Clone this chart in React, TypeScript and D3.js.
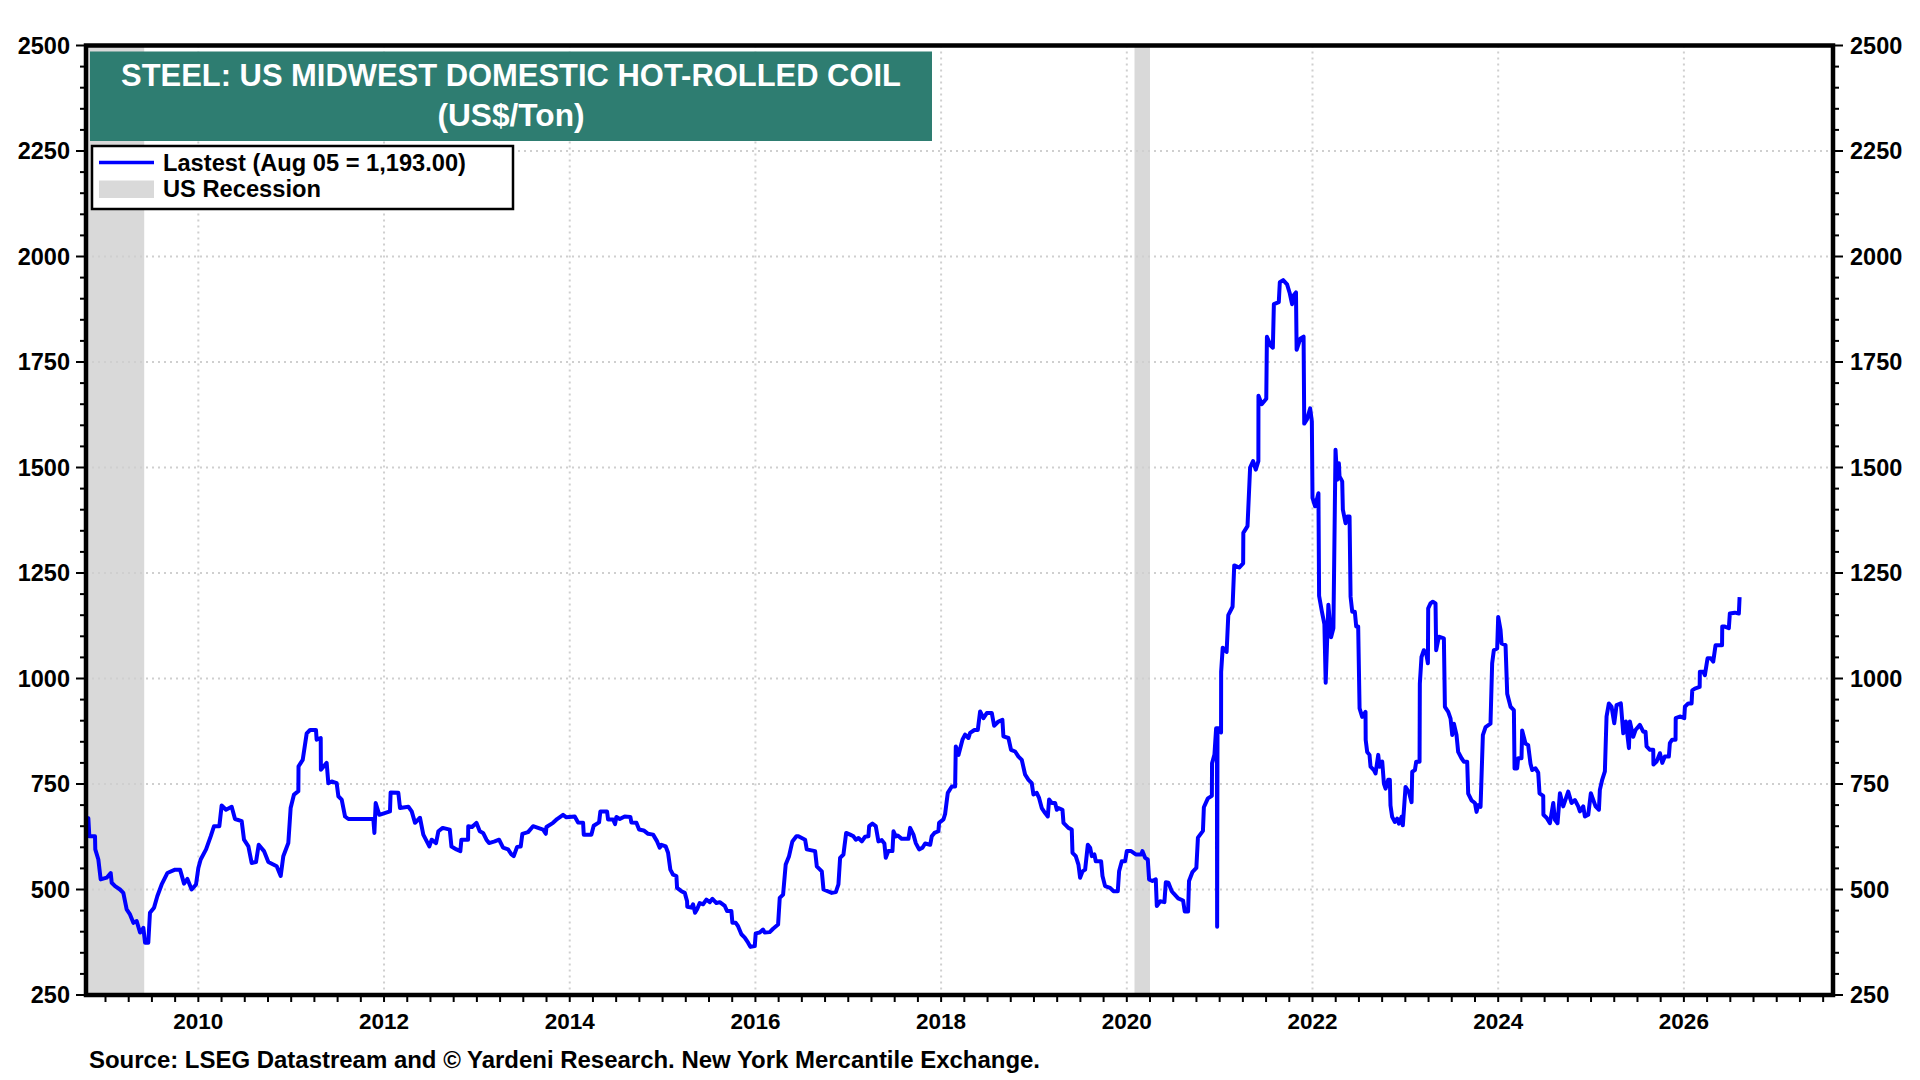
import React from 'react';
import * as d3 from 'd3';

type Pt = [number, number];

// US Midwest domestic hot-rolled coil, US$/ton as [decimal year, price]
const hrc2008to2012: Pt[] = [
  [2008.79, 670], [2008.815, 669], [2008.826, 626], [2008.887, 626], [2008.89, 595], [2008.923, 571],
  [2008.948, 524], [2009.013, 528], [2009.056, 539], [2009.067, 516], [2009.103, 508], [2009.156, 500],
  [2009.192, 492], [2009.228, 453], [2009.264, 441], [2009.3, 421], [2009.336, 425], [2009.372, 398],
  [2009.408, 409], [2009.426, 374], [2009.461, 374], [2009.479, 445], [2009.523, 457], [2009.558, 484],
  [2009.605, 512], [2009.666, 539], [2009.749, 547], [2009.803, 547], [2009.846, 514], [2009.882, 525],
  [2009.928, 500], [2009.975, 512], [2010.0, 551], [2010.025, 571], [2010.083, 595], [2010.133, 626],
  [2010.169, 650], [2010.226, 650], [2010.251, 699], [2010.298, 689], [2010.359, 696], [2010.395, 667],
  [2010.467, 662], [2010.492, 618], [2010.539, 602], [2010.574, 563], [2010.621, 565], [2010.65, 606],
  [2010.707, 591], [2010.754, 565], [2010.844, 555], [2010.887, 532], [2010.915, 579], [2010.969, 610],
  [2010.994, 693], [2011.03, 725], [2011.077, 733], [2011.079, 792], [2011.124, 807], [2011.167, 870],
  [2011.203, 878], [2011.267, 878], [2011.274, 855], [2011.318, 859], [2011.32, 784], [2011.382, 800],
  [2011.4, 752], [2011.436, 756], [2011.49, 752], [2011.508, 721], [2011.544, 713], [2011.58, 673],
  [2011.616, 667], [2011.885, 667], [2011.896, 634], [2011.91, 705], [2011.949, 677], [2012.064, 685],
  [2012.071, 730], [2012.154, 729], [2012.172, 693], [2012.262, 696], [2012.298, 685], [2012.334, 658],
  [2012.387, 670], [2012.423, 630], [2012.488, 602], [2012.513, 618], [2012.56, 610], [2012.585, 638],
  [2012.632, 646], [2012.708, 642],
];

const hrc2012to2016: Pt[] = [
  [2012.726, 602], [2012.78, 595], [2012.822, 591], [2012.833, 618], [2012.905, 618], [2012.907, 650],
  [2012.948, 648], [2012.995, 658], [2013.031, 638], [2013.067, 634], [2013.103, 618], [2013.131, 610],
  [2013.192, 614], [2013.239, 618], [2013.282, 599], [2013.336, 595], [2013.372, 583], [2013.397, 579],
  [2013.433, 601], [2013.472, 602], [2013.49, 632], [2013.551, 636], [2013.605, 650], [2013.659, 646],
  [2013.713, 642], [2013.742, 632], [2013.749, 648], [2013.82, 658], [2013.864, 667], [2013.928, 677],
  [2013.964, 671], [2014.054, 673], [2014.09, 659], [2014.144, 658], [2014.151, 630], [2014.233, 630],
  [2014.258, 651], [2014.316, 659], [2014.33, 685], [2014.402, 685], [2014.413, 666], [2014.467, 666],
  [2014.488, 655], [2014.503, 672], [2014.539, 667], [2014.592, 673], [2014.653, 672], [2014.664, 659],
  [2014.718, 658], [2014.747, 642], [2014.797, 640], [2014.844, 632], [2014.898, 630], [2014.941, 614],
  [2014.969, 599], [2014.987, 606], [2015.034, 602], [2015.059, 587], [2015.084, 547], [2015.113, 535],
  [2015.149, 532], [2015.156, 504], [2015.203, 496], [2015.239, 492], [2015.264, 472], [2015.266, 459],
  [2015.31, 457], [2015.328, 465], [2015.35, 445], [2015.372, 453], [2015.4, 468], [2015.436, 465],
  [2015.472, 476], [2015.508, 470], [2015.537, 478], [2015.58, 468], [2015.616, 470], [2015.67, 461],
  [2015.694, 449], [2015.741, 449], [2015.752, 421], [2015.788, 421], [2015.813, 413], [2015.849, 394],
  [2015.885, 386], [2015.921, 374], [2015.946, 364], [2015.993, 366], [2016.003, 396], [2016.046, 398],
  [2016.082, 405], [2016.1, 398], [2016.154, 399], [2016.19, 407], [2016.244, 417], [2016.262, 480],
  [2016.298, 488], [2016.326, 559], [2016.362, 579], [2016.398, 614], [2016.441, 626],
];

const hrc2016to2020: Pt[] = [
  [2016.463, 626], [2016.535, 618], [2016.553, 595], [2016.643, 591], [2016.661, 555], [2016.715, 543],
  [2016.733, 500], [2016.822, 492], [2016.866, 494], [2016.894, 512], [2016.912, 575], [2016.948, 583],
  [2016.977, 634], [2017.02, 630], [2017.056, 626], [2017.081, 618], [2017.11, 622], [2017.146, 614],
  [2017.181, 625], [2017.217, 626], [2017.225, 650], [2017.26, 656], [2017.296, 650], [2017.325, 614],
  [2017.361, 617], [2017.389, 609], [2017.404, 575], [2017.432, 591], [2017.476, 591], [2017.487, 638],
  [2017.512, 626], [2017.533, 628], [2017.576, 620], [2017.648, 620], [2017.666, 646], [2017.702, 630],
  [2017.727, 610], [2017.763, 595], [2017.799, 599], [2017.828, 609], [2017.882, 606], [2017.899, 626],
  [2017.928, 634], [2017.971, 638], [2017.978, 658], [2018.025, 666], [2018.043, 679], [2018.072, 729],
  [2018.115, 744], [2018.151, 744], [2018.158, 839], [2018.187, 819], [2018.23, 855], [2018.258, 867],
  [2018.294, 859], [2018.312, 871], [2018.359, 878], [2018.395, 878], [2018.42, 922], [2018.456, 906],
  [2018.492, 918], [2018.546, 918], [2018.571, 888], [2018.617, 898], [2018.66, 902], [2018.671, 863],
  [2018.725, 859], [2018.753, 831], [2018.797, 827], [2018.833, 815], [2018.869, 807], [2018.905, 772],
  [2018.941, 760], [2018.976, 752], [2018.994, 725], [2019.03, 729], [2019.055, 717], [2019.084, 693],
  [2019.12, 681], [2019.149, 673], [2019.163, 713], [2019.192, 705], [2019.228, 705], [2019.246, 689],
  [2019.264, 693], [2019.307, 689], [2019.318, 658], [2019.371, 646], [2019.407, 642], [2019.415, 587],
  [2019.45, 579], [2019.479, 559], [2019.497, 528], [2019.523, 543], [2019.551, 547], [2019.58, 606],
  [2019.605, 599], [2019.623, 579], [2019.651, 583], [2019.666, 567], [2019.723, 567], [2019.738, 532],
  [2019.766, 508], [2019.82, 504], [2019.856, 496], [2019.903, 496], [2019.917, 543], [2019.946, 567],
  [2019.982, 567], [2020.0, 591], [2020.046, 591], [2020.097, 583], [2020.154, 583], [2020.168, 591],
  [2020.197, 575], [2020.226, 571], [2020.24, 524],
];

const hrc2020to2022: Pt[] = [
  [2020.276, 520], [2020.312, 524], [2020.323, 461], [2020.359, 472], [2020.405, 470], [2020.42, 517],
  [2020.448, 516], [2020.484, 496], [2020.507, 490], [2020.553, 479], [2020.606, 474], [2020.624, 448],
  [2020.66, 448], [2020.67, 520], [2020.706, 541], [2020.749, 551], [2020.766, 623], [2020.82, 639],
  [2020.83, 695], [2020.873, 716], [2020.916, 722], [2020.918, 799], [2020.944, 820], [2020.962, 882],
  [2020.97, 882], [2020.973, 412], [2020.977, 882], [2020.987, 882], [2021.015, 872], [2021.016, 1016],
  [2021.033, 1073], [2021.075, 1063], [2021.093, 1150], [2021.139, 1170], [2021.157, 1268], [2021.21, 1263],
  [2021.253, 1273], [2021.255, 1345], [2021.3, 1361], [2021.328, 1500], [2021.36, 1515], [2021.389, 1495],
  [2021.417, 1515], [2021.418, 1670], [2021.453, 1650], [2021.502, 1663], [2021.509, 1810], [2021.548, 1789],
  [2021.573, 1784], [2021.584, 1887], [2021.637, 1892], [2021.648, 1939], [2021.684, 1944], [2021.726, 1934],
  [2021.755, 1913], [2021.78, 1887], [2021.798, 1908], [2021.822, 1915], [2021.829, 1779], [2021.868, 1805],
  [2021.904, 1810], [2021.911, 1604], [2021.94, 1614], [2021.975, 1640], [2021.993, 1609], [2022.0, 1428],
  [2022.028, 1408], [2022.064, 1439], [2022.071, 1196], [2022.1, 1160], [2022.128, 1129], [2022.142, 990],
  [2022.171, 1175], [2022.2, 1098], [2022.225, 1119],
];

const hrc2022to2024: Pt[] = [
  [2022.248, 1542], [2022.266, 1471], [2022.284, 1510], [2022.291, 1479], [2022.32, 1467], [2022.327, 1400],
  [2022.356, 1368], [2022.374, 1384], [2022.399, 1384], [2022.41, 1194], [2022.428, 1158], [2022.456, 1158],
  [2022.471, 1123], [2022.492, 1123], [2022.507, 929], [2022.535, 909], [2022.571, 921], [2022.573, 854],
  [2022.589, 826], [2022.614, 819], [2022.625, 791], [2022.661, 783], [2022.679, 775], [2022.708, 819],
  [2022.722, 791], [2022.751, 803], [2022.769, 751], [2022.787, 739], [2022.815, 760], [2022.833, 760],
  [2022.84, 699], [2022.858, 672], [2022.887, 660], [2022.912, 668], [2022.93, 656], [2022.959, 672],
  [2022.973, 652], [2023.002, 743], [2023.038, 731], [2023.067, 707], [2023.074, 779], [2023.103, 783],
  [2023.117, 803], [2023.153, 803], [2023.156, 988], [2023.174, 1051], [2023.199, 1067], [2023.225, 1059],
  [2023.243, 1036], [2023.246, 1166], [2023.271, 1178], [2023.296, 1182], [2023.325, 1178], [2023.332, 1067],
  [2023.361, 1099], [2023.415, 1095], [2023.426, 933], [2023.462, 921], [2023.487, 905], [2023.505, 866],
  [2023.523, 893], [2023.551, 866], [2023.569, 826], [2023.605, 811], [2023.63, 803], [2023.666, 803],
  [2023.677, 727], [2023.713, 711], [2023.749, 705], [2023.767, 684], [2023.785, 700], [2023.81, 696],
  [2023.835, 866], [2023.864, 885], [2023.917, 893], [2023.935, 1036], [2023.953, 1067], [2023.989, 1071],
  [2024.0, 1146], [2024.025, 1115], [2024.036, 1083], [2024.079, 1079], [2024.097, 964], [2024.133, 933],
  [2024.169, 925], [2024.176, 787], [2024.204, 787], [2024.215, 811], [2024.251, 811], [2024.258, 877],
  [2024.294, 846], [2024.323, 842], [2024.348, 798], [2024.366, 783], [2024.402, 787], [2024.431, 777],
];

const hrc2024to2026: Pt[] = [
  [2024.445, 728], [2024.485, 722], [2024.487, 677], [2024.521, 670], [2024.557, 657], [2024.593, 705],
  [2024.611, 665], [2024.639, 657], [2024.665, 728], [2024.7, 697], [2024.754, 732], [2024.79, 705],
  [2024.826, 712], [2024.862, 697], [2024.88, 685], [2024.916, 697], [2024.934, 673], [2024.97, 677],
  [2024.998, 728], [2025.024, 712], [2025.049, 697], [2025.085, 689], [2025.095, 736], [2025.12, 760],
  [2025.149, 780], [2025.167, 910], [2025.192, 941], [2025.221, 933], [2025.25, 894], [2025.275, 937],
  [2025.321, 941], [2025.347, 870], [2025.375, 898], [2025.408, 835], [2025.418, 898], [2025.454, 862],
  [2025.479, 878], [2025.526, 890], [2025.562, 874], [2025.587, 874], [2025.598, 839], [2025.634, 831],
  [2025.67, 831], [2025.672, 796], [2025.706, 803], [2025.742, 823], [2025.767, 800], [2025.795, 815],
  [2025.838, 815], [2025.849, 847], [2025.874, 855], [2025.91, 855], [2025.912, 906], [2025.957, 910],
  [2026.004, 906], [2026.011, 933], [2026.047, 941], [2026.083, 941], [2026.09, 972], [2026.118, 976],
  [2026.17, 980], [2026.172, 1016], [2026.208, 1016], [2026.226, 1008], [2026.255, 1048], [2026.29, 1048],
  [2026.316, 1040], [2026.341, 1079], [2026.411, 1079], [2026.413, 1123], [2026.441, 1123], [2026.484, 1119],
  [2026.495, 1154], [2026.549, 1156], [2026.592, 1154], [2026.6, 1193],
];

// NBER recessions [start, end] as decimal years
const recessions: Pt[] = [[2007.917, 2009.417], [2020.083, 2020.25]];

const priceTicks = [250, 500, 750, 1000, 1250, 1500, 1750, 2000, 2250, 2500];
const yearTicks = [2010, 2012, 2014, 2016, 2018, 2020, 2022, 2024, 2026];

const titleLines = ['STEEL: US MIDWEST DOMESTIC HOT-ROLLED COIL', '(US$/Ton)'];
const legendLabels = ['Lastest (Aug 05 = 1,193.00)', 'US Recession'];
const sourceNote = 'Source: LSEG Datastream and \u00a9 Yardeni Research. New York Mercantile Exchange.';

const W = 1920;
const H = 1080;
const plot = { left: 86, right: 1833, top: 45.5, bottom: 995 };
const FONT = 'Arial, "Liberation Sans", Helvetica, sans-serif';
const BLUE = '#0000ff';
const GRID = '#cfcfcf';
const RECESSION = '#d9d9d9';
const TEAL = '#2e7d71';

const App: React.FC = () => {
  const series = [
    ...hrc2008to2012, ...hrc2012to2016, ...hrc2016to2020,
    ...hrc2020to2022, ...hrc2022to2024, ...hrc2024to2026,
  ];

  const x = d3.scaleLinear().domain([2008.79, 2027.606]).range([plot.left, plot.right]);
  const y = d3.scaleLinear().domain([250, 2500]).range([plot.bottom, plot.top]);

  const line = d3.line<Pt>()
    .x(d => x(d[0]))
    .y(d => y(d[1]))
    .curve(d3.curveLinear);

  const minorY = d3.range(250, 2501, 50).filter(v => v % 250 !== 0);
  const quarters = d3.range(2008.75, 2027.6, 0.25).filter(t => t > 2008.79 && t < 2027.6);
  const [x0, x1] = x.domain();

  return (
    <div style={{ position: 'absolute', left: 0, top: 0 }}>
      <svg width={W} height={H} style={{ display: 'block', background: '#fff' }} fontFamily={FONT}>
        <defs>
          <clipPath id="plot-clip">
            <rect x={plot.left} y={plot.top} width={plot.right - plot.left} height={plot.bottom - plot.top} />
          </clipPath>
        </defs>

        {/* recession bands */}
        <g clipPath="url(#plot-clip)">
          {recessions.map(([s, e], i) => {
            const a = x(Math.max(s, x0));
            const b = x(Math.min(e, x1));
            return <rect key={i} x={a} y={plot.top} width={b - a} height={plot.bottom - plot.top} fill={RECESSION} />;
          })}
        </g>

        {/* grid */}
        <g stroke={GRID} strokeWidth={2} strokeDasharray="2 4">
          {priceTicks.slice(1, -1).map(v => (
            <line key={v} x1={plot.left} x2={plot.right} y1={y(v)} y2={y(v)} />
          ))}
          {yearTicks.map(t => (
            <line key={t} x1={x(t)} x2={x(t)} y1={plot.top} y2={plot.bottom} />
          ))}
        </g>

        {/* price line */}
        <g clipPath="url(#plot-clip)">
          <path d={line(series) ?? ''} fill="none" stroke={BLUE} strokeWidth={4} strokeLinejoin="round" />
        </g>

        {/* frame */}
        <rect x={plot.left} y={plot.top} width={plot.right - plot.left} height={plot.bottom - plot.top}
          fill="none" stroke="#000" strokeWidth={4.5} />

        {/* left and right axes */}
        <g stroke="#000" strokeWidth={2}>
          {priceTicks.map(v => (
            <g key={v}>
              <line x1={plot.left - 10} x2={plot.left} y1={y(v)} y2={y(v)} />
              <line x1={plot.right} x2={plot.right + 10} y1={y(v)} y2={y(v)} />
            </g>
          ))}
          {minorY.map(v => (
            <g key={v}>
              <line x1={plot.left - 6} x2={plot.left} y1={y(v)} y2={y(v)} />
              <line x1={plot.right} x2={plot.right + 6} y1={y(v)} y2={y(v)} />
            </g>
          ))}
          {quarters.map(t => (
            <line key={t} x1={x(t)} x2={x(t)} y1={plot.bottom} y2={plot.bottom + 7} />
          ))}
        </g>
        <g fontSize={23.5} fontWeight="bold" fill="#000">
          {priceTicks.map(v => (
            <g key={v}>
              <text x={plot.left - 16} y={y(v)} dy="0.36em" textAnchor="end">{v}</text>
              <text x={plot.right + 17} y={y(v)} dy="0.36em" textAnchor="start">{v}</text>
            </g>
          ))}
        </g>
        <g fontSize={22.5} fontWeight="bold" fill="#000">
          {yearTicks.map(t => (
            <text key={t} x={x(t)} y={1029} textAnchor="middle">{t}</text>
          ))}
        </g>

        {/* title box */}
        <rect x={90} y={51.5} width={842} height={89.5} fill={TEAL} />
        <g fill="#fff" fontWeight="bold" fontSize={30.5} textAnchor="middle">
          <text x={511} y={86} textLength={780} lengthAdjust="spacingAndGlyphs">{titleLines[0]}</text>
          <text x={511} y={126} textLength={147} lengthAdjust="spacingAndGlyphs">{titleLines[1]}</text>
        </g>

        {/* legend */}
        <rect x={92} y={146} width={421} height={63} fill="#fff" stroke="#000" strokeWidth={2.5} />
        <line x1={99} x2={154} y1={162.5} y2={162.5} stroke={BLUE} strokeWidth={3.5} />
        <rect x={99} y={180.5} width={55} height={17.5} fill={RECESSION} />
        <g fontSize={23} fontWeight="bold" fill="#000">
          <text x={163} y={170.5} textLength={303} lengthAdjust="spacingAndGlyphs">{legendLabels[0]}</text>
          <text x={163} y={197} textLength={158} lengthAdjust="spacingAndGlyphs">{legendLabels[1]}</text>
        </g>

        {/* source */}
        <text x={89} y={1068} fontSize={23} fontWeight="bold" fill="#000"
          textLength={951} lengthAdjust="spacingAndGlyphs">{sourceNote}</text>
      </svg>
    </div>
  );
};

export default App;
